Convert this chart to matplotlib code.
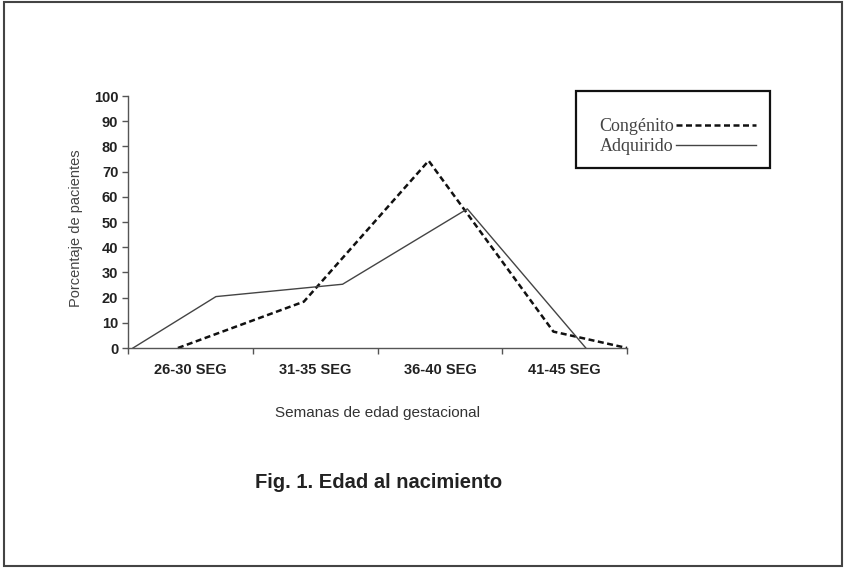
import matplotlib
matplotlib.use("Agg")
import matplotlib.pyplot as plt
from matplotlib.patches import Rectangle

# categorias del eje x
categorias = ["26-30 SEG", "31-35 SEG", "36-40 SEG", "41-45 SEG"]

# series (posicion en unidades de categoria, porcentaje)
congenito_x = [0.40, 1.41, 2.41, 3.41, 4.0]
congenito_y = [0, 18.4, 74.3, 6.5, 0]
adquirido_x = [0.04, 0.705, 1.72, 2.72, 3.67]
adquirido_y = [0, 20.4, 25.3, 55.2, 0]

yticks = list(range(0, 101, 10))

plt.rcParams['font.family'] = ['Liberation Sans', 'DejaVu Sans']

fig = plt.figure(figsize=(8.44, 5.68), dpi=100)
W, H = 844, 568
ax = fig.add_axes([128 / W, 1 - 348 / H, (627 - 128) / W, (348 - 96) / H])

ax.plot(congenito_x, congenito_y, color="#111111", lw=1.8,
        dashes=(2.4, 1.4), label="Congénito", clip_on=False)
ax.plot(adquirido_x, adquirido_y, color="#444444", lw=1.0,
        label="Adquirido", clip_on=False)

ax.set_xlim(0, len(categorias))
ax.set_ylim(0, 100)

# ticks mayores en los limites de categoria, etiquetas en el centro
ax.set_xticks(range(len(categorias) + 1))
ax.set_xticklabels([])
ax.set_xticks([i + 0.5 for i in range(len(categorias))], minor=True)
ax.set_xticklabels(categorias, minor=True, fontweight="bold", fontsize=10.5,
                   color="#222222")
ax.tick_params(axis="x", which="minor", length=0, pad=11)
ax.tick_params(axis="x", which="major", length=4, width=1, color="#555555")

ax.set_yticks(yticks)
ax.set_yticklabels([str(v) for v in yticks], fontweight="bold", fontsize=10.5,
                   color="#222222")
ax.tick_params(axis="y", length=4.5, width=1, color="#555555", pad=2.5)

for s in ["top", "right"]:
    ax.spines[s].set_visible(False)
for s in ["left", "bottom"]:
    ax.spines[s].set_color("#555555")
    ax.spines[s].set_linewidth(1.0)

ax.set_ylabel("Porcentaje de pacientes", fontsize=10.5, color="#444444",
              va="center", ha="center")
ax.yaxis.set_label_coords((76 - 128) / 499, (348 - 228) / 252)
ax.set_xlabel("Semanas de edad gestacional", fontsize=11, color="#333333",
              va="center", ha="center")
ax.xaxis.set_label_coords(0.5, (348 - 413) / 252)

fig.text(379 / W, 1 - 482 / H, "Fig. 1. Edad al nacimiento", ha="center",
         va="center", fontsize=14.5, fontweight="bold", color="#222222")

# leyenda con la muestra de linea a la derecha del texto
leg = fig.legend(loc="upper left", bbox_to_anchor=(599 / W, 1 - 118 / H),
                 markerfirst=False, handlelength=4.4, handletextpad=0.15,
                 borderpad=0, borderaxespad=0, labelspacing=0.16,
                 frameon=False,
                 prop={"family": "Liberation Serif", "size": 13})
for t in leg.get_texts():
    t.set_color("#444444")
fig.patches.append(Rectangle((576 / W, 1 - 168 / H), (770 - 576) / W,
                             (168 - 91) / H, transform=fig.transFigure,
                             fill=False, edgecolor="#111111", lw=1.6))

# marco exterior
fig.patches.append(Rectangle((4 / W, 2 / H), (842 - 4) / W, (566 - 2) / H,
                             transform=fig.transFigure, fill=False,
                             edgecolor="#444444", lw=1.5))

fig.savefig("out.png", dpi=100)
